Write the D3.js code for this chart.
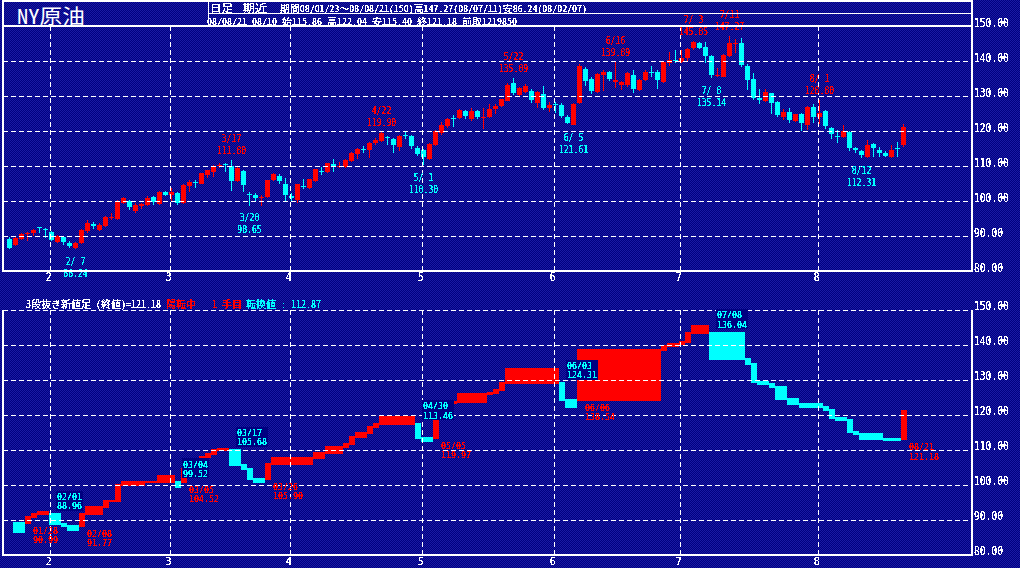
<!DOCTYPE html>
<html><head><meta charset="utf-8">
<script src="https://cdn.jsdelivr.net/npm/d3@7"></script>
<style>html,body{margin:0;padding:0;background:#000080;overflow:hidden}</style>
</head><body>
<svg id="c" width="1020" height="568"></svg>
<script>
// ---------- data ----------
const dates = ["01/23","01/24","01/25","01/28","01/29","01/30","01/31",
"02/01","02/04","02/05","02/06","02/07","02/08","02/11","02/12","02/13","02/14","02/15","02/19","02/20","02/21","02/22","02/25","02/26","02/27","02/28","02/29",
"03/03","03/04","03/05","03/06","03/07","03/10","03/11","03/12","03/13","03/14","03/17","03/18","03/19","03/20","03/24","03/25","03/26","03/27","03/28","03/31",
"04/01","04/02","04/03","04/04","04/07","04/08","04/09","04/10","04/11","04/14","04/15","04/16","04/17","04/18","04/21","04/22","04/23","04/24","04/25","04/28","04/29","04/30",
"05/01","05/02","05/05","05/06","05/07","05/08","05/09","05/12","05/13","05/14","05/15","05/16","05/19","05/20","05/21","05/22","05/23","05/26","05/27","05/28","05/29","05/30",
"06/02","06/03","06/04","06/05","06/06","06/09","06/10","06/11","06/12","06/13","06/16","06/17","06/18","06/19","06/20","06/23","06/24","06/25","06/26","06/27","06/30",
"07/01","07/02","07/03","07/04","07/07","07/08","07/09","07/10","07/11","07/14","07/15","07/16","07/17","07/18","07/21","07/22","07/23","07/24","07/25","07/28","07/29","07/30","07/31",
"08/01","08/04","08/05","08/06","08/07","08/08","08/11","08/12","08/13","08/14","08/15","08/18","08/19","08/20","08/21"];

const openPx = [89.15,87.40,89.20,90.60,91.00,92.45,91.90,
91.20,88.30,89.70,88.10,86.60,88.00,91.40,93.40,91.80,92.90,95.40,94.90,99.50,100.00,97.10,98.70,99.00,101.10,99.20,102.60,
101.60,102.30,99.50,104.40,105.30,105.00,107.50,108.40,110.00,110.50,110.00,105.70,108.60,101.90,101.70,100.90,101.20,105.90,107.20,104.90,
101.40,100.30,104.30,103.80,105.80,108.60,108.40,110.70,109.70,109.80,111.50,113.50,115.00,114.60,116.70,117.20,118.40,117.60,115.50,119.00,118.60,115.20,
114.60,111.90,115.90,119.30,121.40,123.80,123.80,125.70,123.40,125.70,123.80,124.10,126.20,127.20,128.70,133.60,130.30,131.20,131.50,128.10,130.60,126.60,
127.85,127.40,123.90,121.70,127.90,137.70,134.80,131.20,136.00,136.90,134.10,133.20,133.10,136.10,131.70,134.60,137.00,137.00,134.10,139.40,140.30,
139.70,141.00,143.80,145.20,144.10,141.40,135.90,135.50,141.40,144.80,145.20,138.60,134.90,129.50,128.60,130.80,128.30,123.90,125.40,122.90,124.90,121.70,127.00,
123.90,125.80,120.90,118.70,118.20,119.80,115.10,114.30,112.70,116.20,114.60,113.60,112.70,115.10,115.86];

const highPx = [89.60,89.60,91.00,91.20,92.00,92.70,92.20,
91.50,90.30,90.00,88.50,88.40,92.00,94.60,93.90,93.60,95.70,96.50,100.20,101.20,100.30,99.30,99.50,101.30,101.50,102.80,103.00,
103.60,102.60,104.80,105.90,106.00,108.00,109.00,110.20,110.95,111.00,111.80,109.70,109.00,102.70,102.20,101.70,106.00,107.90,107.70,106.50,
102.20,105.00,106.20,106.40,109.20,109.60,111.00,111.90,111.20,111.90,114.00,115.10,115.70,116.90,118.10,119.90,118.60,118.00,118.80,119.70,119.00,115.60,
115.00,116.50,120.20,122.70,123.80,124.60,126.30,126.00,126.60,126.00,126.50,127.60,127.70,129.20,133.80,135.09,132.70,133.40,132.00,131.50,133.00,128.40,
128.20,128.00,124.50,128.00,139.12,138.40,135.30,136.50,137.30,137.20,139.89,134.40,136.90,137.50,135.00,137.50,138.60,137.40,140.00,142.70,143.10,
143.10,143.80,145.85,145.40,145.30,141.80,137.90,141.90,147.27,146.20,146.50,139.20,136.70,131.90,131.90,131.00,128.60,126.20,126.50,125.00,125.20,127.10,127.70,
128.80,126.10,121.20,120.30,121.60,120.10,115.40,114.60,117.40,116.50,115.30,114.20,116.00,116.80,122.04];

const lowPx = [86.30,87.10,88.90,88.60,90.00,91.00,89.30,
88.60,87.90,87.40,86.60,86.24,87.80,90.90,92.00,91.50,92.60,94.60,94.70,99.20,97.30,96.60,97.60,98.60,99.00,99.00,101.30,
99.80,99.00,99.20,102.70,103.60,104.80,106.50,106.90,109.50,108.40,102.90,105.30,102.70,98.65,99.80,98.70,101.00,105.60,104.90,99.80,
99.80,99.50,103.30,103.50,105.50,107.40,108.10,108.20,109.30,109.50,111.20,111.90,113.60,112.40,116.00,117.00,116.00,113.80,114.30,117.80,115.00,112.80,
110.30,111.60,115.60,119.00,121.00,121.20,123.50,123.40,123.00,123.40,120.50,123.60,125.00,126.90,128.50,130.30,129.90,130.90,128.00,126.50,126.00,125.50,
125.20,123.80,122.00,121.61,127.80,133.00,130.60,130.90,131.30,134.30,132.40,131.70,132.50,131.00,131.30,134.30,135.50,132.00,133.80,138.60,139.30,
139.50,139.80,143.10,143.50,139.30,135.14,135.30,135.30,141.20,142.20,138.20,131.70,129.00,127.70,128.30,125.00,124.00,123.10,122.20,122.60,120.10,120.30,122.40,
122.00,120.60,117.80,116.70,117.90,114.30,113.60,112.31,112.40,112.70,112.50,112.50,112.40,112.50,115.40];

const closePx = [86.62,89.41,90.71,90.99,91.64,92.33,91.75,
88.96,90.02,88.41,87.14,88.11,91.77,93.59,92.78,93.27,95.46,95.50,100.01,100.74,98.23,98.81,99.23,100.88,99.64,102.59,101.84,
102.45,99.52,104.52,105.47,105.15,107.90,108.75,109.92,110.33,110.21,105.68,109.42,104.48,101.84,100.86,101.22,105.90,107.58,105.62,101.58,
100.98,104.83,103.92,106.23,109.09,108.50,110.87,110.11,110.14,111.76,113.79,114.93,114.86,116.69,117.48,119.37,118.30,116.06,118.52,118.75,115.63,113.46,
112.52,116.32,119.97,121.84,123.53,123.69,125.96,124.23,125.80,124.12,124.12,126.29,127.05,129.07,133.17,130.81,132.19,132.90,128.85,131.03,126.62,127.35,
127.76,124.31,122.30,127.79,138.54,134.35,131.31,136.38,136.74,134.86,134.61,134.01,136.68,131.93,134.62,136.74,136.81,134.55,139.64,140.21,140.00,
140.97,143.57,145.29,143.80,141.37,136.04,136.05,141.65,145.08,145.18,138.74,134.60,129.29,128.88,131.04,127.95,124.44,125.49,123.26,124.73,122.19,126.77,124.08,
125.10,121.41,119.17,118.58,120.02,115.20,114.45,113.01,116.00,115.01,113.77,112.87,114.53,114.98,121.18];

// marked highs / lows on the candle chart
const hiDates = ["03/17","04/22","05/22","06/16","07/03","07/11","08/01"];
const hiValues = [111.80,119.90,135.09,139.89,145.85,147.27,128.80];
const loDates = ["02/07","03/20","05/01","06/05","07/08","08/12"];
const loValues = [86.24,98.65,110.30,121.61,135.14,112.31];

// three-line-break (新値足) lines: start date, from, to
const lbStart = ["01/24","01/28","01/29","01/30","02/01","02/05","02/06","02/08","02/11","02/14","02/15","02/19","02/20","02/26","02/28",
"03/04","03/05","03/06","03/10","03/11","03/12","03/13","03/17","03/19","03/20","03/24","03/26","03/27","04/07","04/09","04/14","04/15","04/16","04/18","04/21","04/22",
"04/30","05/01","05/05","05/06","05/07","05/08","05/09","05/16","05/19","05/20","05/21","06/03","06/04","06/06","06/26","06/27","07/01","07/02","07/03",
"07/08","07/16","07/17","07/18","07/22","07/23","07/25","07/29","08/04","08/05","08/06","08/08","08/11","08/12","08/18","08/21"];
const lbFrom = [89.21,89.21,90.99,91.64,91.64,88.96,88.41,88.41,91.77,93.59,95.46,95.50,100.01,100.74,100.88,
100.88,100.88,104.52,105.47,107.90,108.75,109.92,109.92,105.68,104.48,101.84,101.84,105.90,107.58,109.09,110.87,111.76,113.79,114.93,116.69,117.48,
117.48,113.46,113.46,119.97,121.84,123.53,123.69,125.96,126.29,127.05,129.07,129.07,124.31,124.31,138.54,139.64,140.21,140.97,143.57,
143.57,136.04,134.60,129.29,128.88,127.95,124.44,123.26,122.19,121.41,119.17,118.58,115.20,114.45,113.01,113.01];
const lbTo = [86.62,90.99,91.64,92.33,88.96,88.41,87.14,91.77,93.59,95.46,95.50,100.01,100.74,100.88,102.59,
99.52,104.52,105.47,107.90,108.75,109.92,110.33,105.68,104.48,101.84,100.86,105.90,107.58,109.09,110.87,111.76,113.79,114.93,116.69,117.48,119.37,
113.46,112.52,119.97,121.84,123.53,123.69,125.96,126.29,127.05,129.07,133.17,124.31,122.30,138.54,139.64,140.21,140.97,143.57,145.29,
136.04,134.60,129.29,128.88,127.95,124.44,123.26,122.19,121.41,119.17,118.58,115.20,114.45,113.01,112.87,121.18];

// reversal labels on the line-break chart
const revDates = ["01/28","02/01","02/08","03/04","03/05","03/17","03/26","04/30","05/05","06/03","06/06","07/08","08/21"];
const revValues = [90.99,88.96,91.77,99.52,104.52,105.68,105.90,113.46,119.97,124.31,138.54,136.04,121.18];

const yTicks = [80,90,100,110,120,130,140,150];
const monthStarts = ["02/01","03/03","04/01","05/01","06/02","07/01","08/01"];
const monthLabels = ["2","3","4","5","6","7","8"];

const titleText = "NY原油";
const headA = "日足", headB = "期近";
const headRow1 = "期間08/01/23〜08/08/21(150)高147.27(08/07/11)安86.24(08/02/07)";
const headRow2 = "08/08/21 08/10 始115.86 高122.04 安115.40 終121.18 前取1219850";
const lbTitle = "3段抜き新値足 (終値)=121.18", lbState = "陽転中", lbCount = "1 手目", lbTurn = "転換値 : 112.87";

// ---------- drawing ----------
(function(){
const RED = "#ff0000", CYAN = "#00ffff", WHITE = "#ffffff";
const FONT_MIX = "'Noto Sans Mono CJK JP','DejaVu Sans Mono','Noto Sans CJK JP',monospace";
const FONT_NUM = "'DejaVu Sans Mono','Noto Sans Mono CJK JP',monospace";
const svg = d3.select("#c").attr("font-family", FONT_NUM);
const defs = svg.append("defs");
const pat = defs.append("pattern").attr("id","dither").attr("width",2).attr("height",2).attr("patternUnits","userSpaceOnUse");
pat.append("rect").attr("width",2).attr("height",2).attr("fill","#000080");
pat.append("rect").attr("x",0).attr("y",0).attr("width",1).attr("height",1).attr("fill","#1a1aa4");
pat.append("rect").attr("x",1).attr("y",1).attr("width",1).attr("height",1).attr("fill","#1a1aa4");
const flt = defs.append("filter").attr("id","crisp").attr("x","-5%").attr("y","-20%").attr("width","110%").attr("height","140%");
flt.append("feComponentTransfer").append("feFuncA").attr("type","discrete").attr("tableValues","0 1 1");
svg.append("rect").attr("width",1020).attr("height",568).attr("fill","url(#dither)");

function units(s){let n=0;for(const ch of s) n += ch.codePointAt(0) > 0x2000 ? 2 : 1; return n;}
function addRuns(g, runs, anchor){
  const t = g.append("text").attr("text-anchor", anchor||"start");
  runs.forEach(r=>{
    t.append("tspan").attr("x",r.x).attr("y",r.y).attr("font-size",r.size).attr("fill",r.fill)
      .attr("textLength",units(r.s)*r.unit).attr("lengthAdjust","spacingAndGlyphs").text(r.s);
  });
  return t;
}
function fmtMD(d){const [m,dd]=d.split("/");return (+m)+"/"+(dd[0]==="0"?" "+dd[1]:dd);}

const x = d3.scalePoint().domain(dates).range([9.5, 903.5]);
const step = x.step();
const yT = d3.scaleLinear().domain([80,150]).range([271,26]);
const yB = d3.scaleLinear().domain([80,150]).range([555,310]);
const gx = d => Math.round(x(d) - 2) + 0.5;

// ---- top panel ----
const topG = svg.append("g");
const cg = topG.append("g").attr("shape-rendering","crispEdges");
const candles = dates.map((d,i)=>({d,o:openPx[i],h:highPx[i],l:lowPx[i],c:closePx[i]}));
const ccol = d => d.c >= d.o ? RED : CYAN;
cg.selectAll("rect.w").data(candles).join("rect").attr("class","w")
  .attr("x", d=>x(d.d)-0.5).attr("width",1)
  .attr("y", d=>yT(d.h)).attr("height", d=>Math.max(1, yT(d.l)-yT(d.h))).attr("fill", ccol);
cg.selectAll("rect.b").data(candles).join("rect").attr("class","b")
  .attr("x", d=>x(d.d)-2.5).attr("width",5)
  .attr("y", d=>yT(Math.max(d.o,d.c))).attr("height", d=>Math.max(1, Math.abs(yT(d.o)-yT(d.c)))).attr("fill", ccol);

const tg = topG.append("g").attr("stroke",WHITE).attr("stroke-width",1).attr("stroke-dasharray","5,3").attr("shape-rendering","crispEdges");
tg.selectAll("line.h").data(yTicks.filter(v=>v>80 && v<150)).join("line").attr("class","h")
  .attr("x1",3).attr("x2",971).attr("y1",v=>Math.round(yT(v))+0.5).attr("y2",v=>Math.round(yT(v))+0.5);
tg.selectAll("line.v").data(monthStarts).join("line").attr("class","v")
  .attr("x1",gx).attr("x2",gx).attr("y1",26).attr("y2",271);

const lab = topG.append("g").attr("filter","url(#crisp)");
hiDates.forEach((d,i)=>{
  const cx = x(d), yy = yT(hiValues[i]);
  addRuns(lab, [{s:fmtMD(d), x:cx, y:yy-17.8, size:10, unit:4.9, fill:RED},
                {s:hiValues[i].toFixed(2), x:cx, y:yy-5.8, size:10, unit:4.9, fill:RED}], "middle");
});
loDates.forEach((d,i)=>{
  const cx = x(d), yy = yT(loValues[i]);
  addRuns(lab, [{s:fmtMD(d), x:cx, y:yy+15.6, size:10, unit:4.9, fill:CYAN},
                {s:loValues[i].toFixed(2), x:cx, y:yy+27.6, size:10, unit:4.9, fill:CYAN}], "middle");
});

// ---- bottom panel ----
const bot = svg.append("g");
const blocks = lbStart.map((s,i)=>({s, f:lbFrom[i], t:lbTo[i],
  x0: x(s)-2.5, x1: i < lbStart.length-1 ? x(lbStart[i+1])-2.5 : x(s)-2.5+step}));
bot.append("g").attr("shape-rendering","crispEdges").selectAll("rect").data(blocks).join("rect")
  .attr("x", b=>b.x0).attr("width", b=>b.x1-b.x0)
  .attr("y", b=>Math.min(yB(b.f), yB(b.t))-1).attr("height", b=>Math.abs(yB(b.f)-yB(b.t))+2)
  .attr("fill", b=> b.t > b.f ? RED : CYAN);

const bg = bot.append("g").attr("stroke",WHITE).attr("stroke-width",1).attr("stroke-dasharray","5,3").attr("shape-rendering","crispEdges");
bg.selectAll("line.h").data(yTicks.filter(v=>v>80)).join("line").attr("class","h")
  .attr("x1",3).attr("x2",971).attr("y1",v=>Math.round(yB(v))+0.5).attr("y2",v=>Math.round(yB(v))+0.5);
bg.selectAll("line.v").data(monthStarts).join("line").attr("class","v")
  .attr("x1",gx).attr("x2",gx).attr("y1",310).attr("y2",555);

const rl = bot.append("g");
const rlt = bot.append("g").attr("filter","url(#crisp)");
revDates.forEach((d,i)=>{
  const b = blocks.find(k=>k.s===d);
  const up = b.t > b.f, lx = b.x0 + 8, yy = yB(b.f);
  const v = revValues[i].toFixed(2);
  if (up) {
    addRuns(rlt, [{s:d, x:lx, y:yy+11, size:8, unit:5, fill:RED},
                  {s:v, x:lx, y:yy+20.4, size:8, unit:5, fill:RED}]);
  } else {
    rl.append("rect").attr("x",lx-1).attr("y",yy-23.5).attr("width",units(v)*5+2).attr("height",20)
      .attr("fill","#000080").attr("shape-rendering","crispEdges");
    addRuns(rlt, [{s:d, x:lx, y:yy-14.4, size:8, unit:5, fill:CYAN},
                  {s:v, x:lx, y:yy-5, size:8, unit:5, fill:CYAN}]);
  }
});

// ---- frames ----
const fr = svg.append("g").attr("stroke",WHITE).attr("fill","none").attr("shape-rendering","crispEdges");
fr.append("path").attr("stroke-width",2).attr("d","M3,1H972V271H3Z");
fr.append("line").attr("stroke-width",2).attr("x1",3).attr("x2",972).attr("y1",26).attr("y2",26);
fr.append("line").attr("stroke-width",1).attr("x1",208).attr("x2",972).attr("y1",13.5).attr("y2",13.5);
fr.append("line").attr("stroke-width",1).attr("x1",208.5).attr("x2",208.5).attr("y1",1).attr("y2",26);
fr.append("path").attr("stroke-width",2).attr("d","M3,310V555H972V310");

// ---- axes ----
function styleAxis(g, size, unit, anchor){
  g.attr("font-family",null).attr("font-size",null).attr("filter","url(#crisp)");
  g.select(".domain").remove();
  g.selectAll(".tick line").remove();
  g.selectAll(".tick text").attr("fill",WHITE).attr("font-size",size).attr("dy",0).attr("y",0).attr("x",0)
    .attr("text-anchor",anchor)
    .attr("textLength", function(){return units(this.textContent)*unit;}).attr("lengthAdjust","spacingAndGlyphs");
}
const fmt = d3.format(".2f");
const ayT = svg.append("g").attr("transform","translate(974,0.5)")
  .call(d3.axisRight(yT).tickValues(yTicks).tickFormat(fmt).tickSize(0).tickPadding(0));
styleAxis(ayT, 12, 5.8, "start");
const ayB = svg.append("g").attr("transform","translate(974,-0.5)")
  .call(d3.axisRight(yB).tickValues(yTicks).tickFormat(fmt).tickSize(0).tickPadding(0));
styleAxis(ayB, 12, 5.8, "start");

const mFmt = d => monthLabels[monthStarts.indexOf(d)];
const axT = svg.append("g").attr("transform","translate(-3.3,281)")
  .call(d3.axisBottom(x).tickValues(monthStarts).tickFormat(mFmt).tickSize(0).tickPadding(0));
styleAxis(axT, 12, 6, "middle");
const axB = svg.append("g").attr("transform","translate(-3.3,565)")
  .call(d3.axisBottom(x).tickValues(monthStarts).tickFormat(mFmt).tickSize(0).tickPadding(0));
styleAxis(axB, 11, 6, "middle");

// ---- header texts ----
const ht = svg.append("g").attr("font-family", FONT_MIX);
addRuns(ht, [{s:titleText, x:17, y:24, size:20, unit:11.3, fill:WHITE}]);
const hc = svg.append("g").attr("font-family", FONT_MIX).attr("filter","url(#crisp)");
addRuns(hc, [{s:headA, x:210, y:12, size:10, unit:5.75, fill:WHITE},
             {s:headB, x:243, y:12, size:10, unit:6, fill:WHITE},
             {s:headRow1, x:280, y:12, size:9, unit:4.95, fill:WHITE},
             {s:headRow2, x:207, y:25.2, size:9, unit:5, fill:WHITE}]);
addRuns(hc, [{s:lbTitle, x:26, y:308, size:10, unit:5, fill:WHITE},
             {s:lbState, x:166, y:308, size:10, unit:5, fill:RED},
             {s:lbCount, x:212, y:308, size:10, unit:5, fill:RED},
             {s:lbTurn, x:246, y:308, size:10, unit:5, fill:CYAN}]);
})();
</script>
</body></html>
